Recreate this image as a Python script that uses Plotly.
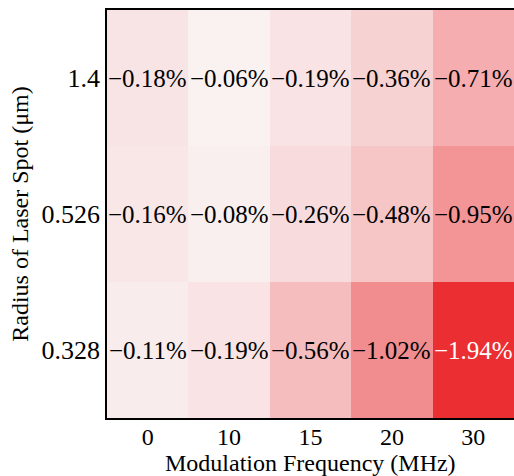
import plotly.graph_objects as go

freqs = ["0", "10", "15", "20", "30"]
radii = ["0.328", "0.526", "1.4"]  # bottom to top
values = [
    [-0.11, -0.19, -0.56, -1.02, -1.94],
    [-0.16, -0.08, -0.26, -0.48, -0.95],
    [-0.18, -0.06, -0.19, -0.36, -0.71],
]

mag = [[abs(v) for v in row] for row in values]
xi = list(range(len(freqs)))
yi = list(range(len(radii)))

fig = go.Figure(go.Heatmap(
    x=xi, y=yi, z=mag, zmin=0, zmax=1.94,
    colorscale=[[0, "#faf7f7"], [1, "#eb2e32"]],
    showscale=False, xgap=0, ygap=0, hoverinfo="skip",
))

for i in yi:
    for j in xi:
        v = values[i][j]
        txt = ("\u2212" if v < 0 else "") + f"{abs(v):.2f}%"
        fig.add_annotation(x=j, y=i, text=txt, showarrow=False,
                           font=dict(family="Liberation Serif", size=25,
                                     color="white" if abs(v) > 1.5 else "black"))

fig.add_annotation(xref="paper", yref="paper", x=0.5, y=0, yanchor="top",
                   yshift=-30, showarrow=False,
                   text="Modulation Frequency (MHz)",
                   font=dict(family="Liberation Serif", size=24, color="black"))

fig.update_layout(
    width=514, height=476,
    margin=dict(l=107, r=0, t=10, b=58),
    paper_bgcolor="white", plot_bgcolor="white",
    font=dict(family="Liberation Serif", size=24, color="black"),
    xaxis=dict(tickmode="array", tickvals=xi, ticktext=freqs, range=[-0.5, 4.5],
               showline=True, linecolor="black", linewidth=1.5, mirror=True,
               ticks="", showgrid=False, zeroline=False, ticklabelstandoff=-4,
               tickfont=dict(size=24)),
    yaxis=dict(tickmode="array", tickvals=yi, ticktext=radii, range=[-0.5, 2.5],
               showline=True, linecolor="black", linewidth=1.5, mirror=False,
               ticks="", showgrid=False, zeroline=False,
               title=dict(text="Radius of Laser Spot (\u03bcm)", standoff=6, font=dict(size=24)),
               tickfont=dict(size=26)),
)

fig.write_html("out.html", config={"displayModeBar": False},
               post_script="document.body.style.margin='0';document.body.style.overflow='hidden';")
